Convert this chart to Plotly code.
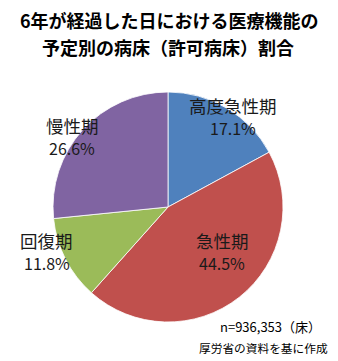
import plotly.graph_objects as go

categories = ["高度急性期", "急性期", "回復期", "慢性期"]
shares = [17.1, 44.5, 11.8, 26.6]
colors = ["#4F81BD", "#C0504D", "#9BBB59", "#8064A2"]
# label anchor positions (pixels from top-left) for each category
label_px = [233, 222, 47, 72]
label_py = [105, 240, 240, 125]

W, H = 338, 361
font = "Noto Sans CJK JP"

fig = go.Figure(go.Pie(
    labels=categories,
    values=shares,
    sort=False,
    direction="clockwise",
    rotation=0,
    marker=dict(colors=colors, line=dict(color="white", width=0.8)),
    textinfo="none",
    hoverinfo="label+percent",
    showlegend=False,
    domain=dict(x=[52 / W, 284 / W], y=[1 - 322 / H, 1 - 92 / H]),
))

annotations = []
for c, v, px, py in zip(categories, shares, label_px, label_py):
    annotations.append(dict(
        x=px / W, y=1 - py / H, xref="paper", yref="paper", showarrow=False,
        text=c, font=dict(family=font, size=17.5, color="#1a1a1a"),
        xanchor="center", yanchor="middle", borderpad=0,
    ))
    annotations.append(dict(
        x=px / W, y=1 - (py + 23) / H, xref="paper", yref="paper", showarrow=False,
        text=f"{v:.1f}%", font=dict(family=font, size=16, color="#1a1a1a"),
        xanchor="center", yanchor="middle", borderpad=0,
    ))

annotations.append(dict(
    x=169 / W, y=1 - 20 / H, xref="paper", yref="paper", showarrow=False,
    text="<b>6年が経過した日における医療機能の</b>",
    font=dict(family=font, size=18, color="black"),
    xanchor="center", yanchor="middle", borderpad=0,
))
annotations.append(dict(
    x=168 / W, y=1 - 47 / H, xref="paper", yref="paper", showarrow=False,
    text="<b>予定別の病床（許可病床）割合</b>",
    font=dict(family=font, size=18, color="black"),
    xanchor="center", yanchor="middle", borderpad=0,
))
annotations.append(dict(
    x=322 / W, y=1 - 326 / H, xref="paper", yref="paper", showarrow=False,
    text="n=936,353（床）", font=dict(family=font, size=13, color="black"),
    xanchor="right", yanchor="middle", borderpad=0,
))
annotations.append(dict(
    x=329 / W, y=1 - 347 / H, xref="paper", yref="paper", showarrow=False,
    text="厚労省の資料を基に作成", font=dict(family=font, size=11.7, color="black"),
    xanchor="right", yanchor="middle", borderpad=0,
))

fig.update_layout(
    width=W, height=H,
    margin=dict(l=0, r=0, t=0, b=0),
    paper_bgcolor="white", plot_bgcolor="white",
    annotations=annotations,
)

fig.write_html("out.html")
